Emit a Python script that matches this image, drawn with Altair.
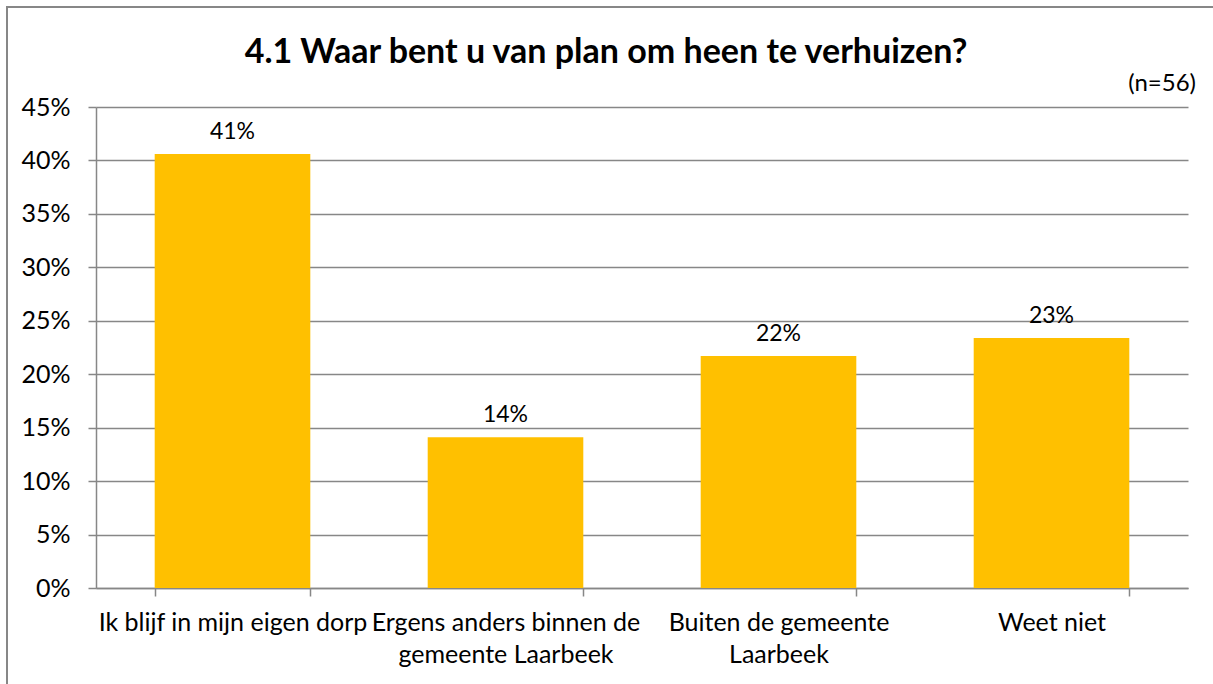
import altair as alt
import pandas as pd

categories = [
    "Ik blijf in mijn eigen dorp",
    "Ergens anders binnen de gemeente Laarbeek",
    "Buiten de gemeente Laarbeek",
    "Weet niet",
]
values = [0.406, 0.141, 0.217, 0.234]
label_lines = [
    ["Ik blijf in mijn eigen dorp"],
    ["Ergens anders binnen de", "gemeente Laarbeek"],
    ["Buiten de gemeente", "Laarbeek"],
    ["Weet niet"],
]
title_text = "4.1 Waar bent u van plan om heen te verhuizen?"
note_text = "(n=56)"
y_ticks = [0, 0.05, 0.10, 0.15, 0.20, 0.25, 0.30, 0.35, 0.40, 0.45]

FONT = "Lato"
GRAY = "#878787"
W, H = 1092, 481

df = pd.DataFrame({"cat": categories, "val": values})

# build label expression for multi-line axis labels
expr = "datum.label"
for cat, lines in zip(reversed(categories), reversed(label_lines)):
    arr = "[" + ",".join("'" + l + "'" for l in lines) + "]"
    expr = f"datum.value == '{cat}' ? {arr} : ({expr})"

x_enc = alt.X(
    "cat:N",
    sort=categories,
    title=None,
    scale=alt.Scale(paddingInner=0.43, paddingOuter=0.215),
    axis=alt.Axis(
        labelAngle=0,
        labelExpr=expr,
        labelFont=FONT,
        labelFontSize=25,
        labelColor="#000000",
        labelLineHeight=32,
        labelPadding=14,
        labelLimit=400,
        tickBand="extent",
        tickSize=8,
        tickColor=GRAY,
        tickWidth=1.5,
        domainColor=GRAY,
        domainWidth=1.5,
        grid=False,
    ),
)

y_enc = alt.Y(
    "val:Q",
    title=None,
    scale=alt.Scale(domain=[0, 0.45], nice=False),
    axis=alt.Axis(
        values=y_ticks,
        format=".0%",
        labelFont=FONT,
        labelFontSize=25,
        labelColor="#000000",
        labelPadding=18,
        tickSize=8,
        tickColor=GRAY,
        tickWidth=1.5,
        domainColor=GRAY,
        domainWidth=1.5,
        gridColor=GRAY,
        gridWidth=1.5,
    ),
)

base = alt.Chart(df)

bars = base.mark_bar(color="#FFC000").encode(x=x_enc, y=y_enc)

labels = base.mark_text(
    font=FONT, fontSize=23, color="#000000", baseline="bottom", dy=-10
).encode(
    x=alt.X("cat:N", sort=categories),
    y="val:Q",
    text=alt.Text("val:Q", format=".0%"),
)

note = alt.Chart(pd.DataFrame({"t": [note_text]})).mark_text(
    font=FONT, fontSize=24, color="#000000", align="right", baseline="middle"
).encode(x=alt.value(W + 8), y=alt.value(-23), text="t:N")

title = alt.Chart(pd.DataFrame({"t": [title_text]})).mark_text(
    font=FONT, fontSize=34, fontWeight="bold", color="#000000",
    align="center", baseline="alphabetic"
).encode(x=alt.value(510), y=alt.value(-44), text="t:N")

border = alt.Chart(pd.DataFrame({"t": [0]})).mark_rect(
    fill=None, stroke=GRAY, strokeWidth=2
).encode(
    x=alt.value(-89), x2=alt.value(W + 60), y=alt.value(-100), y2=alt.value(H + 140)
)

chart = (
    alt.layer(border, bars, labels, note, title)
    .properties(
        width=W,
        height=H,
        autosize=alt.AutoSizeParams(type="none"),
        padding={"left": 96, "top": 107, "right": 25, "bottom": 96},
        background="#FFFFFF",
    )
    .configure_view(stroke=None)
)

chart.save("out.html", embed_options={"renderer": "svg", "actions": False})
